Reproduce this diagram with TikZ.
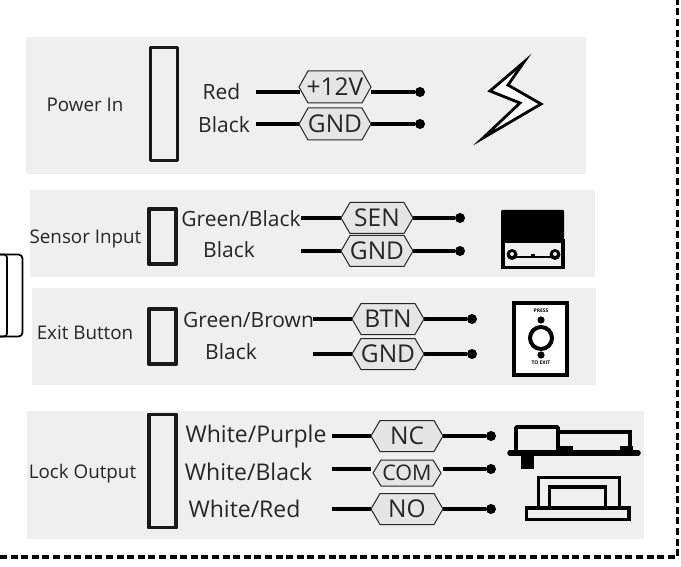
\documentclass[tikz,border=0pt]{standalone}
\usepackage{fontspec}
\setmainfont{Open Sans}
\definecolor{panelgray}{HTML}{EFEFEF}
\definecolor{taggray}{HTML}{E6E5E5}
\tikzset{x=1pt,y=-1pt,
 panel/.style={fill=panelgray,draw=none},
 conn/.style={draw=black!90,line width=3.8pt,line join=round,fill=none,inner sep=0pt},
 wirelabel/.style={font=\fontsize{21}{24}\selectfont,text=black!85,inner sep=0pt},
 locklabel/.style={font=\fontsize{23}{26}\selectfont,text=black!85,inner sep=0pt},
 sectlabel/.style={font=\fontsize{18.8}{22}\selectfont,text=black!85,inner sep=0pt},
 tagtext/.style={font=\fontsize{24.5}{28}\selectfont,text=black!85,inner sep=0pt},
 tagshape/.style={draw=black!85,fill=taggray,line width=1pt},
 wire/.style={draw=black,line width=3.1pt},
 dot/.style={circle,fill=black,inner sep=0pt,minimum size=10pt},
 icon/.style={draw=black,line width=3.6pt,line join=miter},
}
\newcommand{\tagwire}[6]{%
 \coordinate (#1w) at (#2,#6);
 \node[dot] (#1d) at (#5,#6) {};
 \coordinate (#1a) at (#3,#6);
 \coordinate (#1b) at (#4,#6);
 \draw[wire] (#1w) -- (#1a);
 \draw[wire] (#1b) -- (#1d);
}
\newcommand{\taghex}[6]{%
 \path[tagshape] (#1,#3) -- (#1+9,#3-#6) -- (#2-9,#3-#6) -- (#2,#3) -- (#2-9,#3+#6) -- (#1+9,#3+#6) -- cycle;
 \node[tagtext] (#5) at ({(#1+#2)/2},#3) {#4};
}
\begin{document}
\begin{tikzpicture}
\useasboundingbox (0,0) rectangle (681,567);
\fill[white] (0,0) rectangle (681,567);
% panels
\path[panel] (26,37) rectangle (586,174);
\path[panel] (30,190) rectangle (595,277);
\path[panel] (32,288) rectangle (596,385);
\path[panel] (27,411) rectangle (644,539);
% dotted border
\draw[line width=3.6pt,dash pattern=on 7pt off 3.6pt] (0,557) -- (677.5,557) -- (677.5,0);
% side shape
\draw[line width=1.8pt,rounded corners=4pt] (0,254.5) -- (22.5,254.5) -- (22.5,336.5) -- (0,336.5);
\draw[line width=1.8pt,rounded corners=3pt] (0,254.5) -- (7,254.5) -- (7,336.5) -- (0,336.5);
% connectors
\node[conn,minimum width=27pt,minimum height=113pt] (c1) at (164,104) {};
\node[conn,minimum width=27.5pt,minimum height=55.5pt] (c2) at (162.5,236.5) {};
\node[conn,minimum width=27.5pt,minimum height=55.5pt] (c3) at (162.5,336.5) {};
\node[conn,minimum width=27.5pt,minimum height=113pt] (c4) at (162.5,471) {};
% section labels
\node[sectlabel] (s1) at (85,104.5) {Power In};
\node[sectlabel] (s2) at (85.5,238.5) {Sensor Input};
\node[sectlabel] (s3) at (85,333) {Exit Button};
\node[sectlabel] (s4) at (82.5,474) {Lock Output};
% wire labels
\node[wirelabel] (l1) at (221.5,91.5) {Red};
\node[wirelabel] (l2) at (224,124.5) {Black};
\node[wirelabel] (l3) at (241,218.5) {Green/Black};
\node[wirelabel] (l4) at (229,250) {Black};
\node[wirelabel] (l5) at (248.5,319.5) {Green/Brown};
\node[wirelabel] (l6) at (231,352) {Black};
\node[locklabel] (l7) at (256,436.5) {White/Purple};
\node[locklabel] (l8) at (248.5,471.5) {White/Black};
\node[locklabel] (l9) at (244.5,509) {White/Red};
% wires and tags
\tagwire{a}{256}{300}{371}{420}{92}
\taghex{299}{371}{87}{+12V}{ta}{16}
\tagwire{b}{256}{300}{371}{420}{124}
\taghex{299}{371}{124}{GND}{tb}{16}
\tagwire{c}{301}{341}{413}{460}{218}
\taghex{341}{413}{218}{SEN}{tc}{15.5}
\tagwire{d}{301}{341}{413}{460}{251}
\taghex{341}{413}{251}{GND}{td}{15.5}
\tagwire{e}{313}{352}{424}{472}{319}
\taghex{352}{424}{319}{BTN}{te}{15.5}
\tagwire{f}{313}{352}{424}{472}{354}
\taghex{352}{424}{354}{GND}{tf}{15.5}
\tagwire{g}{332}{371}{443}{491}{436}
\taghex{371}{443}{436}{NC}{tg}{15.5}
\tagwire{h}{332}{371}{443}{491}{469}
\path[tagshape] (373,473) -- (381,460) -- (433,460) -- (441,473) -- (433,486) -- (381,486) -- cycle;
\node[tagtext,font=\fontsize{21.5}{24}\selectfont] (th) at (407,473) {COM};
\tagwire{i}{332}{371}{443}{491}{509}
\taghex{371}{443}{509}{NO}{ti}{15.5}
% lightning
\draw[line width=2.8pt,line join=miter,fill=white] (524,62) -- (490,91) -- (520,103) -- (483,138) -- (541,104) -- (508,85) -- cycle;
% sensor icon
\fill[black,rounded corners=1pt] (501,210) rectangle (564,240);
\draw[icon,fill=panelgray] (503,241) rectangle (563,267.5);
\draw[line width=2.6pt] (512,257) -- (555,257);
\fill (512,254.5) circle (5.5pt); \fill (555,254.5) circle (5.5pt);
\fill[panelgray] (512,254) circle (2pt); \fill[panelgray] (555,254) circle (2pt);
\fill (531,254) rectangle (535,257);
% button icon
\draw[line width=4pt,fill=white] (514,303) rectangle (567,375);
\fill (541,320) circle (3.6pt); \fill (541,355) circle (3.6pt);
\draw[line width=4pt] (541,338) circle (11pt);
\node[font=\bfseries\fontsize{5}{5}\selectfont,inner sep=0pt] (pr) at (541,311) {PRESS};
\node[font=\bfseries\fontsize{5}{5}\selectfont,inner sep=0pt] (te2) at (541,363) {TO EXIT};
% lock icon
\draw[icon,rounded corners=1pt] (516,427) rectangle (558,453);
\draw[icon] (558,432) -- (630,432) -- (630,452);
\draw[line width=5.5pt,line cap=round] (510,453) -- (638,453);
\fill (521,453) rectangle (534,469);
\fill (558,446) rectangle (573,453);
\fill (620,446) rectangle (633,453);
\draw[icon] (538.5,507) -- (538.5,477.5) -- (619.5,477.5) -- (619.5,507);
\draw[icon] (549.5,507) -- (549.5,487) -- (605.5,487) -- (605.5,507);
\draw[icon] (526.5,508) rectangle (629,519.5);
\end{tikzpicture}
\end{document}
